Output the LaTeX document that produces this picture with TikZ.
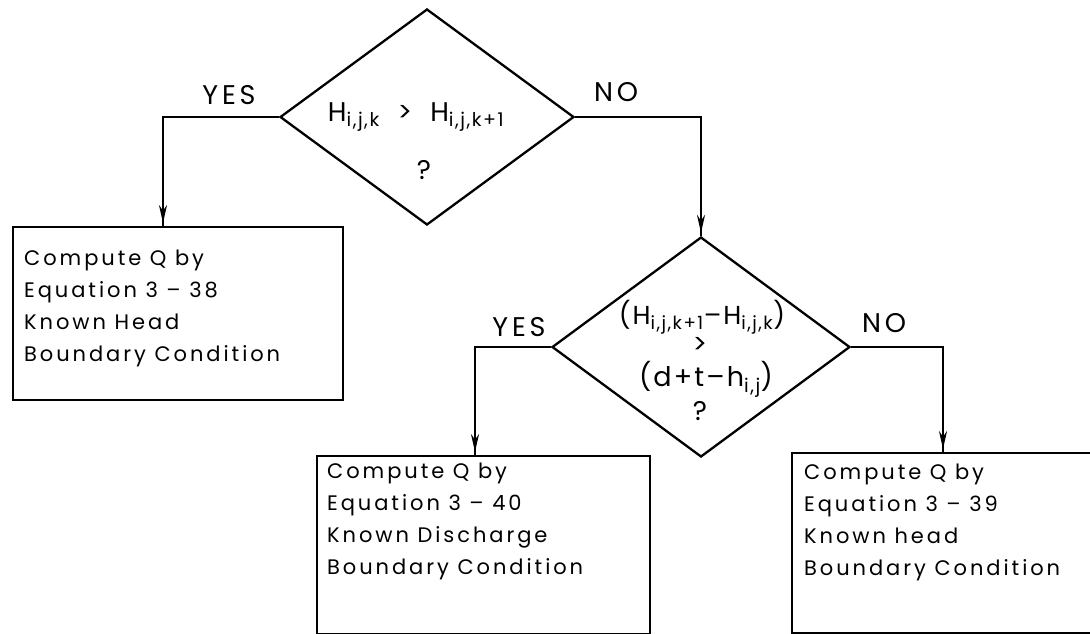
\documentclass[tikz,border=0pt]{standalone}
\usepackage{fontspec}
\setmainfont{Poppins}[LetterSpace=14]
\newfontfamily\eqfont{Poppins}[LetterSpace=8]
\usetikzlibrary{shapes.geometric,arrows.meta,decorations.markings}
\begin{document}
\begin{tikzpicture}[x=1pt,y=-1pt,
  line width=2.3pt,
  dia/.style={diamond, draw, inner sep=0pt, minimum width=294pt, minimum height=216pt},
  box/.style={rectangle, draw, inner sep=0pt, anchor=north west},
  boxtext/.style={anchor=north west, align=left, inner sep=0pt, font=\fontsize{21}{32}\selectfont},
  lbl/.style={inner sep=0pt, font=\fontsize{27}{30}\selectfont},
  eq/.style={inner sep=0pt, font=\eqfont\fontsize{27}{30}\selectfont},
  flow/.style={postaction={decorate}, decoration={markings, mark=at position -3pt with {\arrow{Stealth[length=18pt,width=8pt]}}}},
]
\useasboundingbox (0,0) rectangle (1090,633);
\clip (0,0) rectangle (1090,633);
\fill[white] (0,0) rectangle (1090,633);

% decisions
\node[dia] (d1) at (427,117) {};
\node[dia, minimum width=298pt, minimum height=220pt] (d2) at (701,347) {};
\node[eq] (q1) at (416,117) {H\textsubscript{i,j,k}\hspace{18pt}>\hspace{18pt}H\textsubscript{i,j,k+1}};
\node[eq] (q1b) at (424,170) {?};
\node[eq, font=\eqfont\fontsize{26}{30}\selectfont] (q2a) at (702,317) {(H\textsubscript{i,j,k+1}–H\textsubscript{i,j,k})};
\node[eq] (q2b) at (700,345) {>};
\node[eq] (q2c) at (706,379) {(d+t–h\textsubscript{i,j})};
\node[eq] (q2d) at (700,411) {?};

% boxes
\node[box, minimum width=330pt, minimum height=173pt] (b1) at (12,226) {};
\node[box, minimum width=333pt, minimum height=178pt] (b2) at (316,455) {};
\node[box, minimum width=310pt, minimum height=180pt] (b3) at (791,452) {};
\node[boxtext] (t1) at (23,249) {Compute Q by\\Equation 3 – 38\\Known Head\\Boundary Condition};
\node[boxtext] (t2) at (326,462) {Compute Q by\\Equation 3 – 40\\Known Discharge\\Boundary Condition};
\node[boxtext] (t3) at (803,463) {Compute Q by\\Equation 3 – 39\\Known head\\Boundary Condition};

% labels
\node[lbl] (yes1) at (229,95) {YES};
\node[lbl] (no1) at (616,92) {NO};
\node[lbl] (yes2) at (519,327) {YES};
\node[lbl] (no2) at (884,323) {NO};

% connectors
\coordinate (c1) at (163,117);
\coordinate (c3) at (475,347);
\coordinate (c4) at (943,347);
\draw[flow] (d1.west) -- (c1) -- (c1 |- b1.north);
\draw[flow] (d1.east) -| (d2.north);
\draw[flow] (d2.west) -- (c3) -- (c3 |- b2.north);
\draw[flow] (d2.east) -- (c4) -- (c4 |- b3.north);
\end{tikzpicture}
\end{document}
